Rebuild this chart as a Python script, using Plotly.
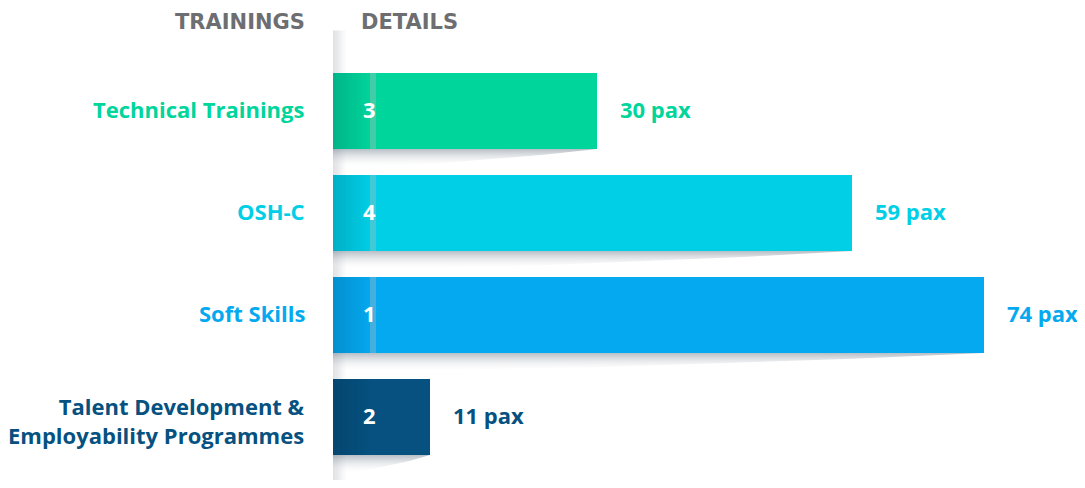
import plotly.graph_objects as go

categories = ["Technical Trainings", "OSH-C", "Soft Skills", "Talent Development &<br>Employability Programmes"]
pax = [30, 59, 74, 11]
counts = [3, 4, 1, 2]
colors = ["#00D59C", "#00CFE6", "#05A9F0", "#06517F"]
headers = ["TRAININGS", "DETAILS"]

W, H = 1085, 488
PAGE = 8  # default body margin of the html page
ML, MT = 333 - PAGE, 60 - PAGE
FW, FH = W - 2 * PAGE, H - 2 * PAGE
plot_w = FW - ML
plot_h = FH - MT
px_per_unit = 8.80
xmax = plot_w / px_per_unit
row_px = 102
bar_w = 76 / row_px
ymax = -0.5 + plot_h / row_px

FONT = "Open Sans"
LBL = 22
fig = go.Figure()

ys = list(range(len(categories)))

# under-bar shadows (drawn first)
for i, v in enumerate(pax):
    yb = ys[i] + bar_w / 2
    depth = 19 / row_px
    fig.add_trace(go.Scatter(
        x=[0, v, v * 0.8, v * 0.4, 0, 0],
        y=[yb, yb, yb + depth * 0.3, yb + depth * 0.75, yb + depth, yb],
        fill="toself", mode="none", hoverinfo="skip", showlegend=False,
        fillgradient=dict(type="vertical",
                          colorscale=[[0, "rgba(110,125,140,0.5)"], [1, "rgba(255,255,255,0)"]],
                          start=yb, stop=yb + depth),
    ))

fig.add_trace(go.Bar(
    y=ys, x=pax, orientation="h", width=bar_w,
    marker=dict(color=colors, line=dict(width=0)),
    hoverinfo="skip", showlegend=False,
))

shapes = []
# vertical shadow at the axis
for k in range(10):
    shapes.append(dict(type="rect", xref="x", yref="paper", xsizemode="pixel", xanchor=0,
                       x0=k * 1.3, x1=(k + 1) * 1.3, y0=0, y1=1.07,
                       fillcolor=f"rgba(110,120,130,{0.22 * (1 - k / 10):.3f})",
                       line=dict(width=0), layer="below"))

annotations = []
for i, (cat, v, n, c) in enumerate(zip(categories, pax, counts, colors)):
    y0 = ys[i] - bar_w / 2
    y1 = ys[i] + bar_w / 2
    steps = 12
    for k in range(steps):
        shapes.append(dict(type="rect", xref="x", yref="y", xsizemode="pixel", xanchor=0,
                           x0=k * 37 / steps, x1=(k + 1) * 37 / steps, y0=y0, y1=y1,
                           fillcolor=f"rgba(0,20,40,{0.16 * (1 - k / steps):.3f})",
                           line=dict(width=0), layer="above"))
    if v * px_per_unit > 120:
        shapes.append(dict(type="rect", xref="x", yref="y", xsizemode="pixel", xanchor=0,
                           x0=37, x1=43, y0=y0, y1=y1,
                           fillcolor="rgba(190,190,190,0.35)", line=dict(width=0), layer="above"))
    annotations.append(dict(x=0, y=ys[i], xref="x", yref="y", text=f"<b>{n}</b>",
                            xanchor="center", xshift=36, yshift=2, showarrow=False,
                            font=dict(family=FONT, size=LBL, color="white")))
    annotations.append(dict(x=v, y=ys[i], xref="x", yref="y", text=f"<b>{v} pax</b>",
                            xanchor="left", xshift=21, yshift=2, showarrow=False,
                            font=dict(family=FONT, size=LBL, color=c)))
    multi = "<br>" in cat
    annotations.append(dict(x=0, y=ys[i], xref="x", yref="y", text=f"<b>{cat}</b>",
                            xanchor="right", xshift=-26, yshift=-3 if multi else 2,
                            showarrow=False, align="right",
                            font=dict(family=FONT, size=LBL, color=c)))

annotations.append(dict(x=0, y=1, xref="paper", yref="paper", yshift=38, xshift=-26,
                        text=f"<b>{headers[0]}</b>", xanchor="right", yanchor="middle",
                        showarrow=False, font=dict(family="DejaVu Sans", size=21, color="#6D6E71")))
annotations.append(dict(x=0, y=1, xref="paper", yref="paper", yshift=38, xshift=26,
                        text=f"<b>{headers[1]}</b>", xanchor="left", yanchor="middle",
                        showarrow=False, font=dict(family="DejaVu Sans", size=21, color="#6D6E71")))

fig.update_layout(
    width=FW, height=FH,
    margin=dict(l=ML, r=0, t=MT, b=0),
    paper_bgcolor="white", plot_bgcolor="white",
    xaxis=dict(range=[0, xmax], visible=False, fixedrange=True),
    yaxis=dict(range=[ymax, -0.5], visible=False, fixedrange=True),
    shapes=shapes, annotations=annotations,
    bargap=0,
)

fig.write_html("out.html")
